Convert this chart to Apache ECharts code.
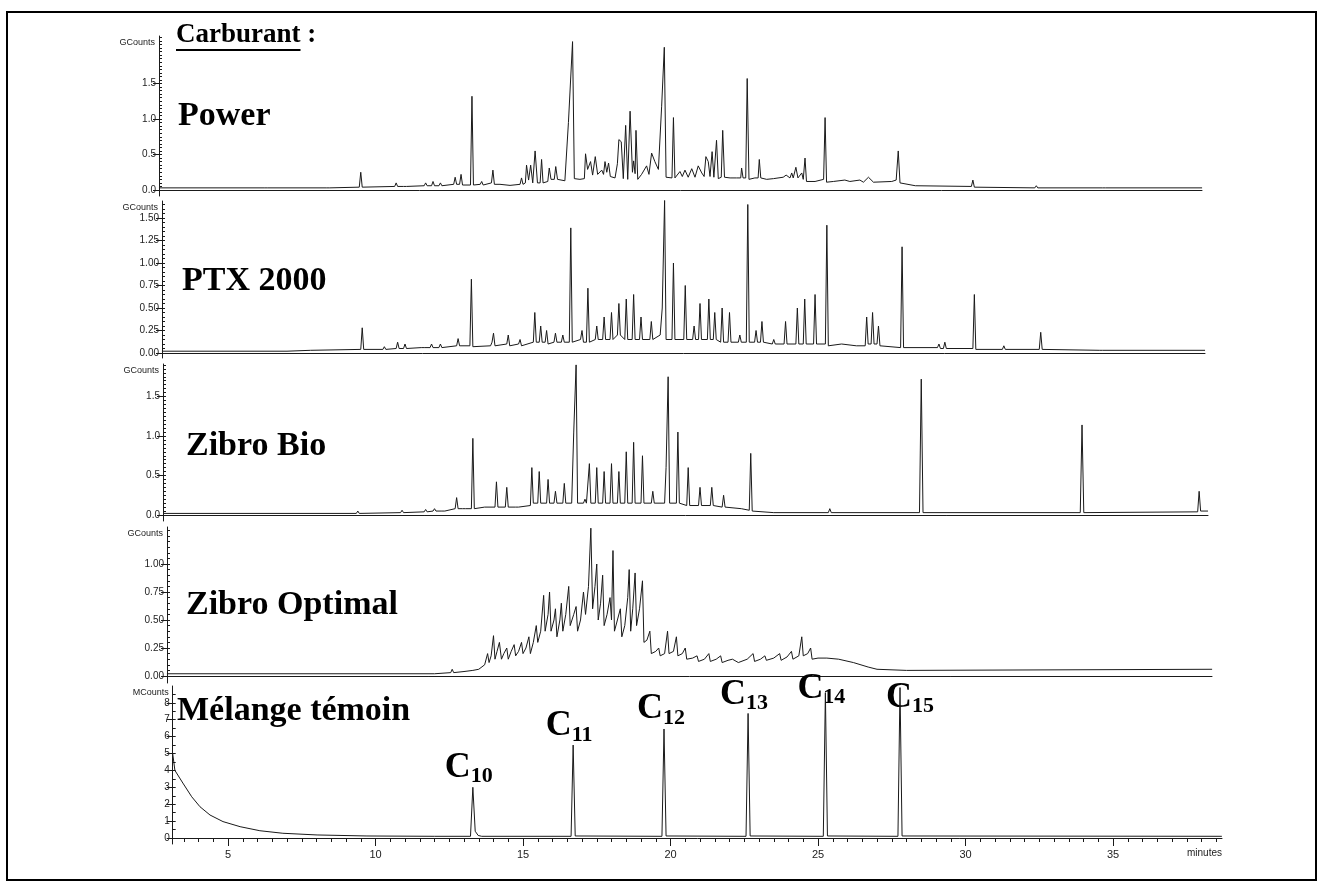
<!DOCTYPE html>
<html>
<head>
<meta charset="utf-8">
<title>Carburant</title>
<script src="https://cdn.jsdelivr.net/npm/echarts@6/dist/echarts.min.js"></script>
<style>
  html, body { margin: 0; padding: 0; background: #fff; }
  #chart { width: 1323px; height: 887px; }
</style>
</head>
<body>
<div id="chart"></div>
<script>
// chromatogrammes : [temps (min), signal]
var powerTrace = [
  [2.66,0.03],[6.25,0.03],[6.3,0.05],[6.35,0.03],[8.35,0.03],[8.4,0.05],[8.45,0.03],[9.45,0.04],[9.5,0.25],[9.55,0.04],
  [10.65,0.05],[10.7,0.1],[10.75,0.05],[10.95,0.05],[11.0,0.07],[11.05,0.05],[11.65,0.06],[11.7,0.1],[11.75,0.06],[11.9,0.06],[11.95,0.12],[12.0,0.06],
  [12.15,0.06],[12.2,0.1],[12.25,0.06],[12.65,0.08],[12.7,0.18],[12.75,0.08],[12.85,0.08],[12.9,0.22],[12.95,0.07],[13.22,0.07],[13.27,1.32],[13.32,0.07],
  [13.55,0.08],[13.6,0.12],[13.65,0.07],[13.93,0.1],[13.98,0.28],[14.03,0.08],[14.22,0.08],[14.56,0.065],[14.9,0.08],[14.95,0.17],[15.0,0.08],
  [15.08,0.1],[15.12,0.35],[15.19,0.14],[15.26,0.35],[15.33,0.1],[15.41,0.55],[15.49,0.1],[15.58,0.1],[15.63,0.43],[15.68,0.1],[15.84,0.12],[15.89,0.31],[15.95,0.15],
  [16.06,0.15],[16.11,0.33],[16.17,0.15],[16.42,0.13],[16.54,0.95],[16.68,2.09],[16.74,0.16],[16.93,0.15],[17.08,0.16],[17.12,0.51],[17.19,0.29],[17.29,0.4],
  [17.36,0.21],[17.45,0.47],[17.53,0.22],[17.67,0.28],[17.73,0.22],[17.78,0.4],[17.84,0.25],[17.9,0.38],[17.96,0.19],[18.12,0.17],[18.2,0.37],
  [18.25,0.71],[18.33,0.68],[18.4,0.16],[18.48,0.91],[18.55,0.15],[18.63,1.11],[18.71,0.25],[18.75,0.41],[18.8,0.23],[18.83,0.84],
  [18.89,0.15],[19.02,0.22],[19.19,0.34],[19.27,0.22],[19.36,0.52],[19.47,0.4],[19.59,0.29],[19.7,1.18],[19.79,2.01],[19.85,0.18],
  [20.05,0.17],[20.1,1.02],[20.15,0.17],[20.32,0.26],[20.4,0.19],[20.49,0.28],[20.6,0.18],[20.72,0.3],[20.83,0.18],[20.94,0.34],
  [21.06,0.24],[21.14,0.19],[21.2,0.47],[21.28,0.4],[21.34,0.19],[21.41,0.54],[21.47,0.18],[21.56,0.7],[21.62,0.16],[21.72,0.18],[21.77,0.84],
  [21.83,0.18],[22.02,0.17],[22.24,0.17],[22.38,0.17],[22.41,0.31],[22.46,0.17],[22.55,0.17],[22.6,1.57],[22.66,0.15],[22.86,0.17],[22.97,0.17],[23.01,0.43],[23.06,0.17],
  [23.26,0.15],[23.49,0.16],[23.82,0.18],[23.92,0.21],[24.05,0.17],[24.11,0.24],[24.16,0.17],[24.25,0.32],[24.32,0.17],[24.45,0.24],
  [24.5,0.15],[24.56,0.45],[24.61,0.12],[24.9,0.12],[25.19,0.15],[25.24,1.02],[25.29,0.11],[25.52,0.12],[25.91,0.14],[26.08,0.12],
  [26.42,0.14],[26.54,0.11],[26.71,0.18],[26.88,0.11],[27.5,0.12],[27.65,0.14],[27.72,0.55],[27.78,0.1],[28.3,0.06],[30.2,0.05],
  [30.25,0.14],[30.3,0.04],[32.35,0.03],[32.4,0.06],[32.45,0.03],[34.65,0.03],[34.7,0.05],[34.75,0.03],[38.02,0.03]
];
var ptxTrace = [
  [2.76,0.02],[7.0,0.02],[7.8,0.03],[9.5,0.04],[9.55,0.28],[9.6,0.04],[10.25,0.04],[10.3,0.07],[10.35,0.04],[10.7,0.05],
  [10.75,0.12],[10.8,0.05],[10.95,0.05],[11.0,0.1],[11.05,0.05],[11.55,0.06],[11.6,0.08],[11.65,0.06],[11.85,0.06],[11.9,0.1],
  [11.95,0.06],[12.15,0.06],[12.2,0.1],[12.25,0.06],[12.75,0.08],[12.8,0.16],[12.85,0.08],[13.2,0.08],[13.25,0.82],[13.3,0.07],
  [13.9,0.08],[13.95,0.12],[14.0,0.22],[14.05,0.08],[14.45,0.1],[14.5,0.2],[14.55,0.08],[14.85,0.1],[14.9,0.15],[14.95,0.08],
  [15.35,0.12],[15.4,0.45],[15.45,0.12],[15.55,0.12],[15.6,0.3],[15.65,0.12],[15.75,0.12],[15.8,0.25],[15.85,0.1],[16.05,0.12],
  [16.1,0.22],[16.15,0.12],[16.3,0.12],[16.35,0.2],[16.4,0.12],[16.57,0.12],[16.62,1.39],[16.67,0.12],[16.95,0.15],[17.0,0.25],
  [17.05,0.12],[17.15,0.12],[17.2,0.72],[17.25,0.12],[17.45,0.15],[17.5,0.3],[17.55,0.15],[17.7,0.15],[17.75,0.4],[17.8,0.15],
  [17.95,0.15],[18.0,0.45],[18.05,0.15],[18.2,0.2],[18.25,0.55],[18.3,0.2],[18.45,0.15],[18.5,0.6],[18.55,0.15],[18.7,0.15],
  [18.75,0.65],[18.8,0.15],[18.95,0.15],[19.0,0.4],[19.05,0.15],[19.3,0.15],[19.35,0.35],[19.4,0.15],[19.65,0.2],[19.72,0.5],
  [19.8,1.7],[19.85,0.15],[20.05,0.15],[20.1,1.0],[20.15,0.15],[20.45,0.15],[20.5,0.75],[20.55,0.15],[20.75,0.15],[20.8,0.3],
  [20.85,0.15],[20.95,0.15],[21.0,0.55],[21.05,0.15],[21.25,0.15],[21.3,0.6],[21.35,0.15],[21.45,0.15],[21.5,0.45],[21.55,0.15],
  [21.7,0.12],[21.75,0.5],[21.8,0.12],[21.95,0.12],[22.0,0.45],[22.05,0.12],[22.3,0.12],[22.35,0.2],[22.4,0.12],[22.57,0.12],
  [22.62,1.65],[22.67,0.12],[22.85,0.12],[22.9,0.25],[22.95,0.12],[23.05,0.12],[23.1,0.35],[23.15,0.12],[23.45,0.1],[23.5,0.15],
  [23.55,0.1],[23.85,0.1],[23.9,0.35],[23.95,0.1],[24.25,0.1],[24.3,0.5],[24.35,0.1],[24.5,0.1],[24.55,0.6],[24.6,0.1],
  [24.85,0.1],[24.9,0.65],[24.95,0.1],[25.25,0.1],[25.3,1.42],[25.35,0.08],[25.8,0.1],[26.3,0.08],[26.6,0.08],[26.65,0.4],
  [26.7,0.1],[26.8,0.1],[26.85,0.45],[26.9,0.1],[27.0,0.1],[27.05,0.3],[27.1,0.08],[27.8,0.06],[27.85,1.18],[27.9,0.06],
  [29.05,0.06],[29.1,0.1],[29.15,0.05],[29.25,0.05],[29.3,0.12],[29.35,0.05],[30.25,0.05],[30.3,0.65],[30.35,0.04],[31.25,0.04],
  [31.3,0.08],[31.35,0.04],[32.5,0.04],[32.55,0.23],[32.6,0.04],[34.55,0.03],[34.6,0.05],[34.65,0.03],[38.12,0.03]
];
var bioTrace = [
  [2.8,0.02],[9.35,0.02],[9.4,0.05],[9.45,0.02],[10.85,0.03],[10.9,0.06],[10.95,0.03],[11.65,0.04],[11.7,0.07],[11.75,0.04],
  [11.95,0.05],[12.0,0.08],[12.05,0.05],[12.25,0.05],[12.3,0.07],[12.35,0.05],[12.7,0.08],[12.75,0.22],[12.8,0.08],[12.95,0.08],
  [13.0,0.1],[13.05,0.08],[13.25,0.08],[13.3,0.97],[13.35,0.08],[13.7,0.1],[14.05,0.1],[14.1,0.42],[14.15,0.1],[14.4,0.1],
  [14.45,0.35],[14.5,0.1],[14.75,0.1],[14.8,0.12],[14.85,0.1],[15.25,0.12],[15.3,0.6],[15.35,0.15],[15.5,0.15],[15.55,0.55],
  [15.6,0.15],[15.8,0.15],[15.85,0.45],[15.9,0.15],[16.05,0.15],[16.1,0.3],[16.15,0.15],[16.35,0.15],[16.4,0.4],[16.45,0.15],
  [16.65,0.15],[16.72,1.05],[16.8,1.9],[16.85,0.15],[17.05,0.15],[17.1,0.2],[17.15,0.15],[17.2,0.15],[17.25,0.65],[17.3,0.15],
  [17.45,0.15],[17.5,0.6],[17.55,0.15],[17.7,0.15],[17.75,0.55],[17.8,0.15],[17.95,0.15],[18.0,0.65],[18.05,0.15],[18.2,0.15],
  [18.25,0.55],[18.3,0.15],[18.45,0.15],[18.5,0.8],[18.55,0.15],[18.7,0.15],[18.75,0.92],[18.8,0.15],[19.0,0.15],[19.05,0.75],
  [19.1,0.15],[19.35,0.15],[19.4,0.3],[19.45,0.15],[19.8,0.15],[19.85,0.6],[19.92,1.75],[19.97,0.15],[20.2,0.15],[20.25,1.05],
  [20.3,0.15],[20.55,0.12],[20.6,0.6],[20.65,0.12],[20.95,0.12],[21.0,0.35],[21.05,0.12],[21.35,0.12],[21.4,0.35],[21.45,0.12],
  [21.75,0.1],[21.8,0.25],[21.85,0.1],[22.4,0.08],[22.67,0.06],[22.72,0.78],[22.77,0.05],[23.5,0.03],[25.35,0.03],[25.4,0.08],
  [25.45,0.03],[28.44,0.03],[28.5,1.72],[28.56,0.03],[33.89,0.03],[33.95,1.14],[34.01,0.03],[37.87,0.04],[37.92,0.3],[37.97,0.05],
  [38.22,0.05]
];
var optimalTrace = [
  [2.93,0.02],[12.0,0.02],[12.55,0.03],[12.6,0.06],[12.65,0.03],[13.0,0.04],[13.3,0.05],[13.5,0.06],[13.7,0.1],[13.8,0.2],
  [13.85,0.12],[13.92,0.18],[14.0,0.36],[14.05,0.15],[14.12,0.22],[14.2,0.3],[14.27,0.15],[14.35,0.2],[14.45,0.25],[14.5,0.15],
  [14.6,0.22],[14.7,0.28],[14.75,0.18],[14.85,0.22],[14.95,0.3],[15.0,0.2],[15.1,0.25],[15.2,0.35],[15.25,0.2],[15.35,0.3],
  [15.45,0.45],[15.5,0.3],[15.6,0.4],[15.7,0.72],[15.75,0.4],[15.85,0.55],[15.9,0.75],[15.95,0.4],[16.05,0.5],[16.1,0.6],
  [16.15,0.35],[16.25,0.5],[16.3,0.65],[16.35,0.4],[16.45,0.55],[16.55,0.8],[16.6,0.45],[16.72,0.55],[16.8,0.62],[16.85,0.4],
  [16.95,0.5],[17.05,0.75],[17.12,0.55],[17.22,0.8],[17.3,1.32],[17.36,0.6],[17.44,0.8],[17.5,1.0],[17.55,0.5],[17.63,0.65],
  [17.7,0.9],[17.75,0.45],[17.85,0.55],[17.95,0.7],[18.0,0.5],[18.05,1.12],[18.1,0.4],[18.2,0.5],[18.3,0.6],[18.35,0.35],
  [18.45,0.45],[18.55,0.7],[18.6,0.95],[18.65,0.4],[18.72,0.6],[18.8,0.92],[18.85,0.45],[18.95,0.6],[19.05,0.85],[19.1,0.3],
  [19.2,0.32],[19.3,0.4],[19.35,0.2],[19.5,0.22],[19.6,0.25],[19.65,0.18],[19.8,0.2],[19.9,0.4],[19.95,0.2],[20.1,0.22],
  [20.2,0.35],[20.25,0.18],[20.4,0.2],[20.5,0.25],[20.55,0.15],[20.75,0.16],[20.9,0.18],[20.95,0.13],[21.15,0.15],[21.3,0.2],
  [21.35,0.13],[21.55,0.15],[21.7,0.18],[21.75,0.12],[21.95,0.14],[22.1,0.15],[22.3,0.12],[22.6,0.15],[22.8,0.2],[22.85,0.13],
  [23.05,0.15],[23.2,0.18],[23.25,0.14],[23.5,0.16],[23.7,0.2],[23.75,0.14],[23.95,0.17],[24.1,0.22],[24.15,0.15],[24.35,0.18],
  [24.45,0.35],[24.5,0.18],[24.65,0.2],[24.75,0.25],[24.8,0.15],[25.0,0.16],[25.3,0.16],[25.7,0.15],[26.2,0.12],[26.7,0.08],
  [27.0,0.06],[28.0,0.05],[38.36,0.06]
];
var melangeTrace = [
  [3.125,5.0],[3.2,4.0],[3.47,3.25],[3.77,2.44],[4.05,1.85],[4.39,1.36],[4.83,0.97],[5.41,0.67],[6.08,0.43],[6.86,0.28],
  [8.02,0.18],[9.71,0.12],[12.0,0.1],[13.22,0.1],[13.3,3.0],[13.38,0.4],[13.48,0.15],[13.6,0.1],[16.63,0.1],[16.7,5.5],
  [16.77,0.12],[19.71,0.1],[19.78,6.45],[19.85,0.12],[22.56,0.1],[22.63,7.37],[22.7,0.12],[25.18,0.1],[25.25,8.6],[25.32,0.12],
  [27.71,0.1],[27.78,8.9],[27.85,0.12],[38.69,0.1]
];

var panelNames = ['Power', 'PTX 2000', 'Zibro Bio', 'Zibro Optimal', 'Mélange témoin'];
var panelUnits = ['GCounts', 'GCounts', 'GCounts', 'GCounts', 'MCounts'];
var powerTicks = [0, 0.5, 1.0, 1.5];
var ptxTicks = [0, 0.25, 0.5, 0.75, 1.0, 1.25, 1.5];
var bioTicks = [0, 0.5, 1.0, 1.5];
var optimalTicks = [0, 0.25, 0.5, 0.75, 1.0];
var melangeTicks = [0, 1, 2, 3, 4, 5, 6, 7, 8];
var timeTicks = [5, 10, 15, 20, 25, 30, 35];
var alkaneNames = ['10', '11', '12', '13', '14', '15'];
var alkaneTimes = [13.3, 16.7, 19.78, 22.63, 25.25, 27.78];

var traces = [powerTrace, ptxTrace, bioTrace, optimalTrace, melangeTrace];
var yTicks = [powerTicks, ptxTicks, bioTicks, optimalTicks, melangeTicks];

// mise en page (pixels) : même échelle des temps pour tous les panneaux
var X0 = 80.5, PX_PER_MIN = 29.5;
var layout = [
  { top: 36,  zeroY: 190, axisY: 196, left: 159,   right: 1202, ppu: 71,   minor: 0.05, digits: 1, tx: 178, ty: 118 },
  { top: 201, zeroY: 353, axisY: 358, left: 162,   right: 1205, ppu: 90,   minor: 0.05, digits: 2, tx: 182, ty: 283 },
  { top: 364, zeroY: 515, axisY: 521, left: 163,   right: 1208, ppu: 79,   minor: 0.05, digits: 1, tx: 186, ty: 448 },
  { top: 527, zeroY: 676, axisY: 683, left: 167,   right: 1212, ppu: 112,  minor: 0.05, digits: 2, tx: 186, ty: 607 },
  { top: 686, zeroY: 838, axisY: 844, left: 172.7, right: 1222, ppu: 16.9, minor: 0.5,  digits: 0, tx: 177, ty: 713 }
];
var labelOffsets = [[-4, 0], [-4, 1], [-3, 0], [-4, 1], [-4, 16], [10, 30]];

var SANS = '"Liberation Sans", Arial, sans-serif';
var SERIF = '"Liberation Serif", "Times New Roman", serif';
var INK = '#1a1a1a';

var chart = echarts.init(document.getElementById('chart'), null, { renderer: 'canvas' });

var grids = [], xAxes = [], yAxes = [], series = [], graphics = [];

layout.forEach(function (L, i) {
  var yMin = -(L.axisY - L.zeroY) / L.ppu;
  var yMax = (L.zeroY - L.top) / L.ppu;
  var xMin = (L.left - X0) / PX_PER_MIN;
  var xMax = (L.right - X0) / PX_PER_MIN;
  var isLast = i === layout.length - 1;

  grids.push({ left: L.left, top: L.top, width: L.right - L.left, height: L.axisY - L.top });

  var xi = xAxes.length;
  xAxes.push({
    type: 'value', gridIndex: i, min: xMin, max: xMax, position: 'bottom',
    axisLine: { show: true, lineStyle: { color: INK, width: 1 } },
    axisTick: isLast ? { show: true, length: 8, customValues: timeTicks, lineStyle: { color: INK } } : { show: false },
    axisLabel: isLast ? { show: true, customValues: timeTicks, margin: 5, fontSize: 11, color: '#222', fontFamily: SANS } : { show: false },
    splitLine: { show: false },
    name: isLast ? 'minutes' : '',
    nameLocation: 'end', nameGap: 0,
    nameTextStyle: { align: 'right', verticalAlign: 'top', padding: [10, 0, 0, 0], fontSize: 10, color: '#222', fontFamily: SANS }
  });
  if (isLast) {
    var minorX = [];
    for (var m = Math.ceil(xMin * 2); m / 2 <= xMax; m++) minorX.push(m / 2);
    xAxes.push({
      type: 'value', gridIndex: i, min: xMin, max: xMax, position: 'bottom',
      axisLine: { show: false },
      axisTick: { show: true, length: 4, customValues: minorX, lineStyle: { color: INK } },
      axisLabel: { show: false }, splitLine: { show: false }
    });
  }

  var yi = yAxes.length;
  yAxes.push({
    type: 'value', gridIndex: i, min: yMin, max: yMax, position: 'left',
    axisLine: { show: true, lineStyle: { color: INK, width: 1 } },
    axisTick: { show: true, length: 6, customValues: yTicks[i], lineStyle: { color: INK } },
    axisLabel: {
      show: true, customValues: yTicks[i], margin: 3, fontSize: 10, color: '#222', fontFamily: SANS,
      formatter: (function (d) { return function (v) { return v.toFixed(d); }; })(L.digits)
    },
    splitLine: { show: false },
    name: panelUnits[i], nameLocation: 'end', nameGap: -7,
    nameTextStyle: { align: 'right', verticalAlign: 'middle', padding: [0, 4, 0, 0], fontSize: 9, color: '#222', fontFamily: SANS }
  });
  var minorY = [];
  for (var k = 1; k * L.minor <= yMax; k++) minorY.push(+(k * L.minor).toFixed(3));
  yAxes.push({
    type: 'value', gridIndex: i, min: yMin, max: yMax, position: 'left',
    axisLine: { show: false },
    axisTick: { show: true, inside: true, length: 3, customValues: minorY, lineStyle: { color: INK } },
    axisLabel: { show: false }, splitLine: { show: false }
  });

  series.push({
    type: 'line', xAxisIndex: xi, yAxisIndex: yi, data: traces[i],
    symbol: 'none', smooth: false, silent: true, clip: true,
    lineStyle: { color: INK, width: 1 }
  });

  graphics.push({
    type: 'text', left: L.tx, top: L.ty - 19,
    style: { text: panelNames[i], font: 'bold 34px ' + SERIF, fill: '#000' }
  });

  if (isLast) {
    // étiquettes des n-alcanes sur les pics du mélange témoin
    var labelData = alkaneTimes.map(function (t, j) {
      var best = null;
      traces[i].forEach(function (p) {
        if (Math.abs(p[0] - t) < 0.06 && (!best || p[1] > best[1])) best = p;
      });
      return { value: best, label: { offset: labelOffsets[j] }, name: alkaneNames[j] };
    });
    series.push({
      type: 'scatter', xAxisIndex: xi, yAxisIndex: yi, symbolSize: 0, silent: true,
      itemStyle: { color: '#000', opacity: 1 },
      data: labelData,
      label: {
        show: true, position: 'top', distance: 0,
        color: '#000', fontWeight: 'bold', fontFamily: SERIF, textBorderWidth: 0, opacity: 1,
        formatter: function (p) { return '{c|C}{s|' + p.name + '}'; },
        rich: {
          c: { fontSize: 36, lineHeight: 38, fontWeight: 'bold', fontFamily: SERIF, color: '#000', verticalAlign: 'top' },
          s: { fontSize: 22, lineHeight: 14, fontWeight: 'bold', fontFamily: SERIF, color: '#000', verticalAlign: 'bottom' }
        }
      }
    });
  }
});

// titre souligné
var ctx = document.createElement('canvas').getContext('2d');
ctx.font = 'bold 27px ' + SERIF;
var underlineW = ctx.measureText('Carburant').width;
graphics.push({ type: 'text', left: 176, top: 22, style: { text: 'Carburant :', font: 'bold 27px ' + SERIF, fill: '#000' } });
graphics.push({ type: 'line', shape: { x1: 176, y1: 50, x2: 176 + underlineW, y2: 50 }, style: { stroke: '#000', lineWidth: 2 } });
// cadre
graphics.push({ type: 'rect', shape: { x: 7, y: 12, width: 1309, height: 868 }, style: { fill: 'none', stroke: '#000', lineWidth: 2 } });

chart.setOption({
  animation: false,
  backgroundColor: '#fff',
  grid: grids,
  xAxis: xAxes,
  yAxis: yAxes,
  series: series,
  graphic: graphics
});
</script>
</body>
</html>
